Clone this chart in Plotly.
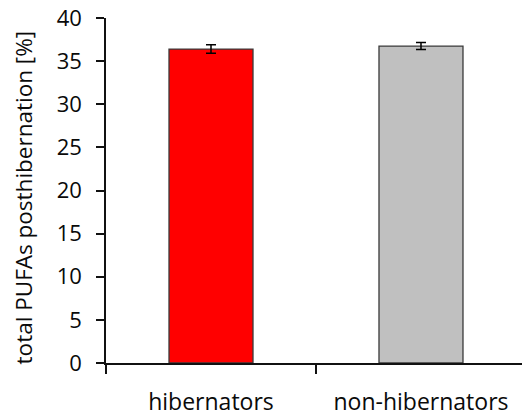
import plotly.graph_objects as go

# Total PUFAs after hibernation, mean ± SE per group
categories = ["hibernators", "non-hibernators"]
pufa_mean = [36.4, 36.75]
pufa_err = [0.49, 0.41]
bar_colors = ["#FF0000", "#C0C0C0"]
y_ticks = [0, 5, 10, 15, 20, 25, 30, 35, 40]

font_family = "Open Sans, Noto Sans, sans-serif"
x_pos = list(range(len(categories)))

fig = go.Figure()
fig.add_trace(go.Bar(
    x=x_pos,
    y=pufa_mean,
    width=0.4,
    marker=dict(color=bar_colors, line=dict(color="#3a3a3a", width=1.3)),
    error_y=dict(type="data", array=pufa_err, color="#000000", thickness=1.5, width=5),
    showlegend=False,
    hoverinfo="skip",
))
# invisible trace on the label axis so category names sit under the bars
fig.add_trace(go.Scatter(x=x_pos, y=[0, 0], xaxis="x2", mode="markers",
                         marker=dict(opacity=0), showlegend=False, hoverinfo="skip"))

x_range = [-0.5, 1.481]
fig.update_layout(
    width=522, height=418,
    margin=dict(l=106, r=0, t=18, b=55, autoexpand=False),
    paper_bgcolor="white", plot_bgcolor="white",
    font=dict(family=font_family, color="#0a0a0a"),
    xaxis=dict(
        range=x_range, tickvals=[-0.5, 0.5, 1.5], ticktext=["", "", ""],
        ticks="outside", ticklen=9, tickwidth=1.5, tickcolor="#111111",
        showline=True, linecolor="#111111", linewidth=1.5, automargin=False,
        showgrid=False, zeroline=False, fixedrange=True,
    ),
    xaxis2=dict(
        range=x_range, overlaying="x", anchor="y", side="bottom",
        tickvals=x_pos, ticktext=categories, ticks="", showline=False,
        showgrid=False, zeroline=False, ticklabelstandoff=23, automargin=False,
        tickfont=dict(size=23, family=font_family, color="#0a0a0a"),
    ),
    yaxis=dict(
        range=[0, 40], tickvals=y_ticks,
        ticks="outside", ticklen=8, tickwidth=1.5, tickcolor="#111111",
        showline=True, linecolor="#111111", linewidth=1.5, automargin=False,
        showgrid=False, zeroline=False, ticklabelstandoff=10,
        tickfont=dict(size=22, family=font_family, color="#0a0a0a"),
    ),
    annotations=[dict(
        text="total PUFAs posthibernation [%]", textangle=-90,
        xref="paper", yref="paper", x=0, y=0.48, xanchor="center", yanchor="middle",
        xshift=-83, showarrow=False,
        font=dict(size=22.5, family=font_family, color="#0a0a0a"),
    )],
)

fig.write_html("out.html")
